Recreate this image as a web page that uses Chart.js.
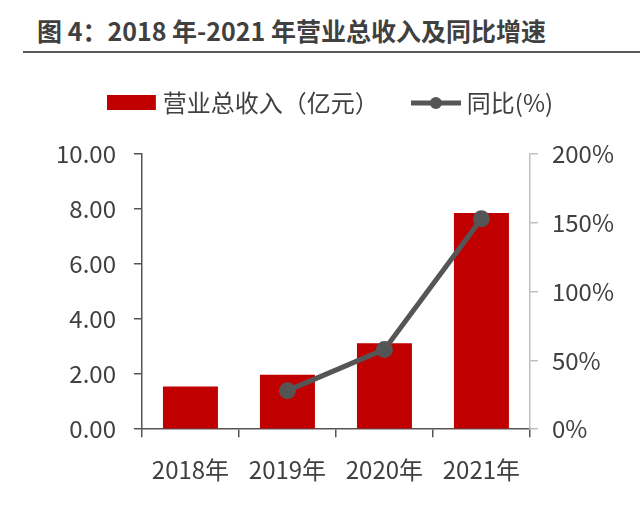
<!DOCTYPE html>
<html>
<head>
<meta charset="utf-8">
<script src="https://cdn.jsdelivr.net/npm/chart.js@4.4.0/dist/chart.umd.min.js"></script>
<style>
    body { margin: 0; background: #fff; }
    #wrap { position: relative; width: 640px; height: 506px; }
    #title {
        position: absolute; left: 23px; right: 0; top: 14px;
        padding-left: 14px; padding-bottom: 5px;
        border-bottom: 2px solid #595959;
        font-family: "Noto Sans CJK SC", sans-serif; font-weight: bold;
        font-size: 25px; line-height: 32px; color: #404040;
    }
    canvas { position: absolute; left: 0; top: 0; }
</style>
</head>
<body>
<div id="wrap">
    <div id="title">图 4：2018 年-2021 年营业总收入及同比增速</div>
    <canvas id="chart" width="640" height="506"></canvas>
</div>
<script>
    // Data
    const years = ['2018年', '2019年', '2020年', '2021年'];
    const revenue = [1.55, 1.98, 3.12, 7.86];      // 营业总收入（亿元）
    const growth = [null, 28, 58, 153];            // 同比(%)
    const revenueTicks = [0, 2, 4, 6, 8, 10];
    const growthTicks = [0, 50, 100, 150, 200];

    const RED = '#C00000';
    const GREY = '#555555';
    const TEXT = '#404040';
    const FONT = '"Noto Sans CJK SC", sans-serif';

    // Legend icons drawn on small canvases
    function makeIcon(type) {
        const c = document.createElement('canvas');
        c.width = 50;
        c.height = 16;
        const g = c.getContext('2d');
        if (type === 'bar') {
            g.fillStyle = RED;
            g.fillRect(0, 0, 49, 15);
        } else {
            g.strokeStyle = GREY;
            g.lineWidth = 5;
            g.beginPath();
            g.moveTo(0, 8);
            g.lineTo(50, 8);
            g.stroke();
            g.fillStyle = GREY;
            g.beginPath();
            g.arc(25, 8, 6, 0, Math.PI * 2);
            g.fill();
        }
        return c;
    }
    const icons = [makeIcon('bar'), makeIcon('line')];

    // Extra space between the legend and the plot
    const legendGap = {
        id: 'legendGap',
        beforeInit(chart) {
            const fit = chart.legend.fit;
            chart.legend.fit = function () {
                fit.bind(chart.legend)();
                this.height += 29;
            };
        }
    };

    new Chart(document.getElementById('chart'), {
        data: {
            labels: years,
            datasets: [
                {
                    type: 'line',
                    label: '同比(%)',
                    data: growth,
                    yAxisID: 'y1',
                    borderColor: GREY,
                    backgroundColor: GREY,
                    borderWidth: 5,
                    pointRadius: 6,
                    pointHoverRadius: 6,
                    tension: 0,
                    order: 0
                },
                {
                    type: 'bar',
                    label: '营业总收入（亿元）',
                    data: revenue,
                    yAxisID: 'y',
                    backgroundColor: RED,
                    barPercentage: 0.567,
                    categoryPercentage: 1,
                    order: 1
                }
            ]
        },
        plugins: [legendGap],
        options: {
            responsive: false,
            animation: false,
            layout: { padding: { top: 53, left: 38, right: 12, bottom: 4 } },
            plugins: {
                tooltip: { enabled: false },
                legend: {
                    position: 'top',
                    reverse: true,
                    labels: {
                        usePointStyle: true,
                        pointStyleWidth: 38,
                        padding: 38,
                        color: TEXT,
                        font: { family: FONT, size: 24 },
                        generateLabels: function (chart) {
                            const items = Chart.defaults.plugins.legend.labels.generateLabels(chart);
                            items.forEach(item => {
                                item.pointStyle = item.datasetIndex === 1 ? icons[0] : icons[1];
                            });
                            return items;
                        }
                    }
                }
            },
            scales: {
                x: {
                    grid: { offset: true, drawOnChartArea: false, tickLength: 8, color: GREY, lineWidth: 1.5 },
                    border: { color: GREY, width: 1.5 },
                    ticks: { color: TEXT, padding: 18, font: { family: FONT, size: 24 } }
                },
                y: {
                    position: 'left',
                    min: revenueTicks[0],
                    max: revenueTicks[revenueTicks.length - 1],
                    afterBuildTicks: axis => { axis.ticks = revenueTicks.map(v => ({ value: v })); },
                    grid: { drawOnChartArea: false, tickLength: 8, color: GREY, lineWidth: 1.5 },
                    border: { color: GREY, width: 1.5 },
                    ticks: {
                        color: TEXT, padding: 18, font: { family: FONT, size: 24 },
                        callback: v => v.toFixed(2)
                    }
                },
                y1: {
                    position: 'right',
                    min: growthTicks[0],
                    max: growthTicks[growthTicks.length - 1],
                    afterBuildTicks: axis => { axis.ticks = growthTicks.map(v => ({ value: v })); },
                    grid: { drawOnChartArea: false, tickLength: 8, color: '#BFBFBF', lineWidth: 1.5 },
                    border: { color: '#BFBFBF', width: 1.5 },
                    ticks: {
                        color: TEXT, padding: 14, font: { family: FONT, size: 24 },
                        callback: v => v + '%'
                    }
                }
            }
        }
    });
</script>
</body>
</html>
